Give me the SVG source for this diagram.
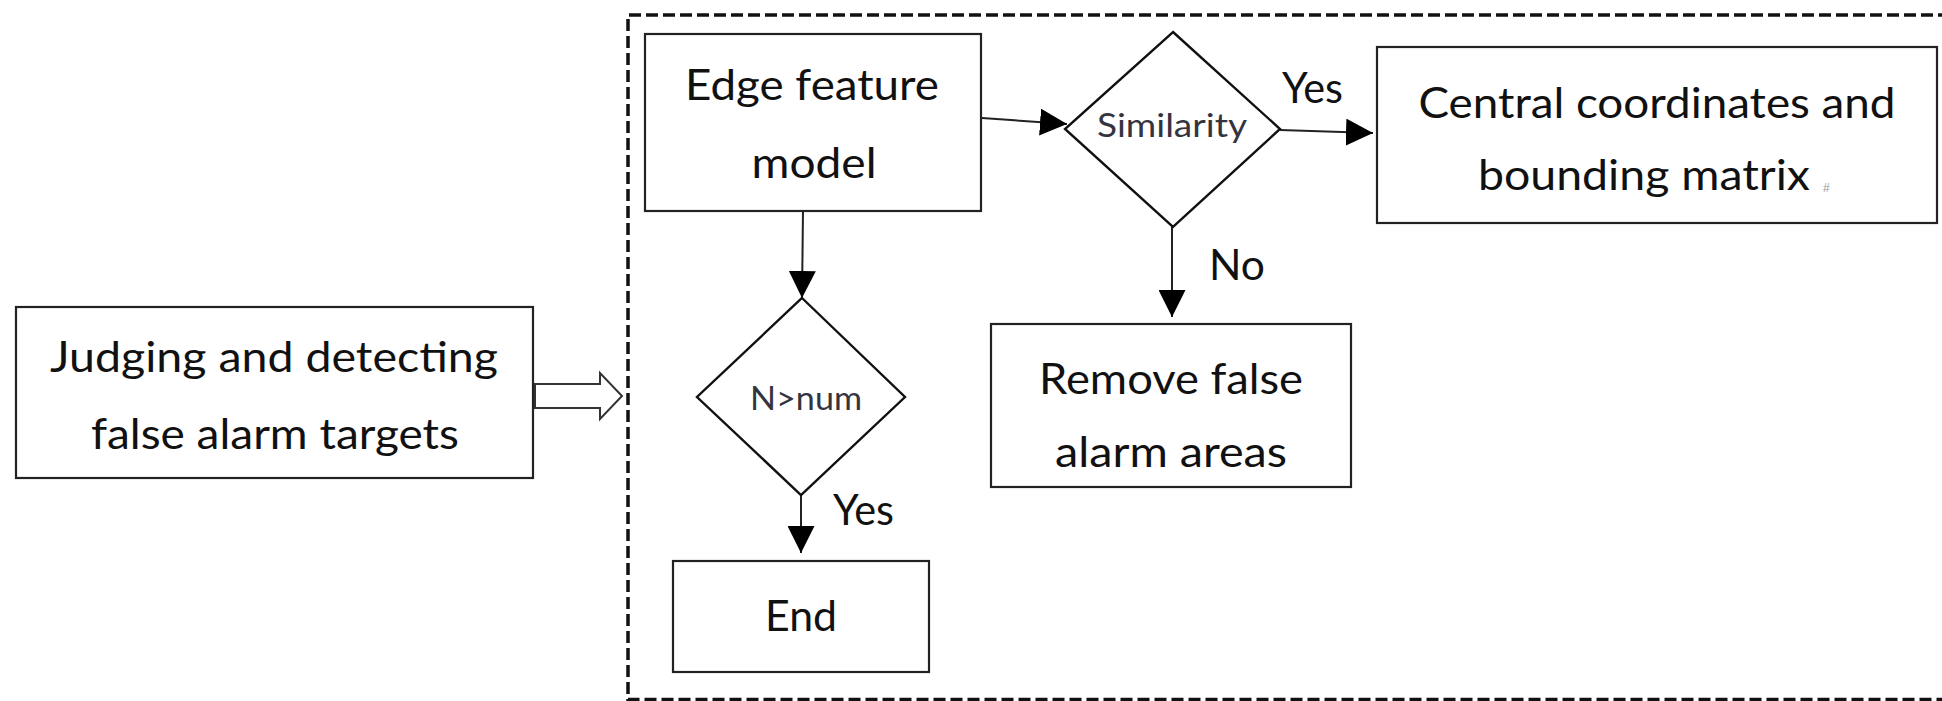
<svg xmlns="http://www.w3.org/2000/svg" width="1942" height="701" viewBox="0 0 1942 701">
<style>
  .box { fill: #ffffff; stroke: #222; stroke-width: 2.2; }
  .dia { fill: #ffffff; stroke: #111; stroke-width: 2.4; }
  .t { font-family: Lato, "Liberation Sans", Arial, sans-serif; font-size: 42px; fill: #111; }
  .ts { font-family: Lato, "Liberation Sans", Arial, sans-serif; font-size: 32px; fill: #34343f; }
  .c { text-anchor: middle; }
  .con { fill: none; stroke: #222; stroke-width: 2; }
</style>
<defs>
  <marker id="ah" viewBox="0 0 27 27" refX="27" refY="13.5" markerWidth="27" markerHeight="27" markerUnits="userSpaceOnUse" orient="auto">
    <path d="M0,0 L27,13.5 L0,27 z" fill="#000"/>
  </marker>
</defs>
<rect width="1942" height="701" fill="#ffffff"/>

<g id="container">
  <path d="M1950,15 H628 V699.5 H1950" fill="none" stroke="#111" stroke-width="3.5" stroke-dasharray="12 5"/>
</g>

<g id="connectors">
  <polygon points="535,384 600,384 600,373 622,396 600,419 600,408 535,408" fill="#fff" stroke="#333" stroke-width="2"/>
  <path class="con" d="M982,118 L1067,124" marker-end="url(#ah)"/>
  <path class="con" d="M1280,130 L1373,133" marker-end="url(#ah)"/>
  <path class="con" d="M803,211 L802,298" marker-end="url(#ah)"/>
  <path class="con" d="M801,495 L801,553" marker-end="url(#ah)"/>
  <path class="con" d="M1172,227 L1172,317" marker-end="url(#ah)"/>
  <text class="t" x="1282" y="103" textLength="61" lengthAdjust="spacingAndGlyphs">Yes</text>
  <text class="t" x="1209" y="280" textLength="56" lengthAdjust="spacingAndGlyphs">No</text>
  <text class="t" x="833" y="525" textLength="61" lengthAdjust="spacingAndGlyphs">Yes</text>
</g>

<g id="judging">
  <rect class="box" x="16" y="307" width="517" height="171"/>
  <text class="t c" x="274" y="372" textLength="448" lengthAdjust="spacingAndGlyphs">Judging and detecting</text>
  <text class="t c" x="275" y="449" textLength="368" lengthAdjust="spacingAndGlyphs">false alarm targets</text>
</g>

<g id="edge">
  <rect class="box" x="645" y="34" width="336" height="177"/>
  <text class="t c" x="812" y="100" textLength="254" lengthAdjust="spacingAndGlyphs">Edge feature</text>
  <text class="t c" x="814" y="178" textLength="125" lengthAdjust="spacingAndGlyphs">model</text>
</g>

<g id="similarity">
  <polygon class="dia" points="1173,32 1280,129 1173,227 1065,129"/>
  <text class="ts c" x="1172" y="137" textLength="150" lengthAdjust="spacingAndGlyphs">Similarity</text>
</g>

<g id="central">
  <rect class="box" x="1377" y="47" width="560" height="176"/>
  <text class="t c" x="1657" y="118" textLength="477" lengthAdjust="spacingAndGlyphs">Central coordinates and</text>
  <text class="t" x="1478" y="190" textLength="332" lengthAdjust="spacingAndGlyphs">bounding matrix</text>
  <text x="1823" y="192" font-family="Liberation Sans, sans-serif" font-size="12" fill="#999">#</text>
</g>

<g id="nnum">
  <polygon class="dia" points="802,298 905,397 801,495 697,397"/>
  <text class="ts c" x="806" y="410" textLength="112" lengthAdjust="spacingAndGlyphs">N&gt;num</text>
</g>

<g id="remove">
  <rect class="box" x="991" y="324" width="360" height="163"/>
  <text class="t c" x="1171" y="394" textLength="264" lengthAdjust="spacingAndGlyphs">Remove false</text>
  <text class="t c" x="1171" y="467" textLength="232" lengthAdjust="spacingAndGlyphs">alarm areas</text>
</g>

<g id="end">
  <rect class="box" x="673" y="561" width="256" height="111"/>
  <text class="t c" x="801" y="631" textLength="72" lengthAdjust="spacingAndGlyphs">End</text>
</g>
</svg>
